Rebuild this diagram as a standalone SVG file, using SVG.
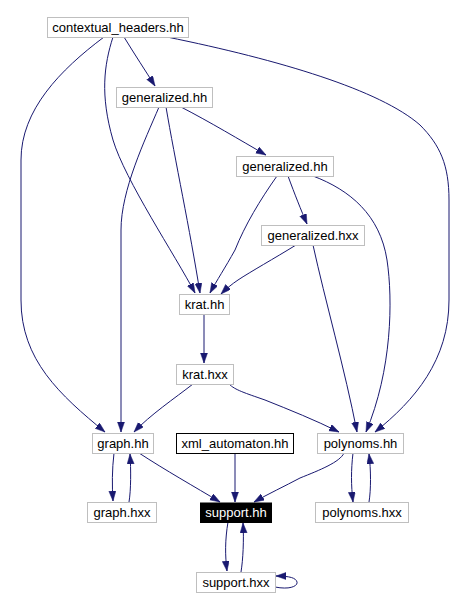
<svg xmlns="http://www.w3.org/2000/svg" width="468" height="609" viewBox="0 0 468 609">
<style>
.n rect{fill:#ffffff;stroke:#bfbfbf;stroke-width:1}
.n text{font-family:"Liberation Sans",Arial,sans-serif;font-size:13px;fill:#000000;text-anchor:middle}
.n.b rect{stroke:#000000}
.n.cur rect{fill:#000000;stroke:#000000}
.n.cur text{fill:#ffffff}
.e path{fill:none;stroke:#191970;stroke-width:1;marker-end:url(#ah)}
</style>
<defs>
<marker id="ah" markerUnits="userSpaceOnUse" markerWidth="11" markerHeight="8" refX="10" refY="3.5" orient="auto">
<path d="M0,0 L10,3.5 L0,7 z" fill="#191970" stroke="#191970" stroke-width="0.5"/>
</marker>
</defs>
<rect width="468" height="609" fill="#ffffff"/>
<g id="connectors" class="e">
<path d="M124,37 C135,55 145,70 155,86"/>
<path d="M113,37 C104,65 100,95 113,140 C125,180 175,255 195,293"/>
<path d="M104,37 C60,70 21,110 21,160 L21,300 C21,360 60,395 105,432"/>
<path d="M167,37 C280,60 380,90 420,125 C440,145 449,165 449,200 L449,300 C449,360 415,400 375,432"/>
<path d="M181,107 C210,122 240,140 266,155"/>
<path d="M166,107 C175,160 190,230 200,293"/>
<path d="M159,107 C145,140 121,190 121,230 L121,432"/>
<path d="M277,176 C260,200 245,225 235,250 C225,268 217,280 210,293"/>
<path d="M288,176 C295,195 301,210 307,224"/>
<path d="M313,176 C350,190 380,215 387,260 C393,300 392,370 366,432"/>
<path d="M296,245 C275,258 250,272 238,280 C232,284 226,289 221,294"/>
<path d="M313,245 C325,300 345,370 357,432"/>
<path d="M204,314 L204,363"/>
<path d="M193,384 C175,398 150,415 134,432"/>
<path d="M229,384 C235,390 245,393 265,400 C290,410 315,420 339,432"/>
<path d="M114,453 C112,470 112,485 113,501"/>
<path d="M129,502 C131,490 131,470 130,454"/>
<path d="M139,453 C165,470 195,487 220,502"/>
<path d="M235,453 L235,502"/>
<path d="M344,453 C340,462 320,470 300,478 C285,486 268,494 254,502"/>
<path d="M353,453 C351,470 351,485 353,502"/>
<path d="M369,502 C371,490 371,470 369,454"/>
<path d="M228,522 C225,540 225,555 227,571"/>
<path d="M241,572 C243,560 244,540 243,523"/>
<path d="M275,587 C290,590 298,586 297,582 C296,578 290,576 276,576"/>
</g>
<g id="contextual_headers_hh" class="n"><rect x="47.5" y="17.5" width="141" height="20"/><text x="118" y="32">contextual_headers.hh</text></g>
<g id="generalized_hh_1" class="n"><rect x="116.5" y="87.5" width="96" height="20"/><text x="164.5" y="102">generalized.hh</text></g>
<g id="generalized_hh_2" class="n"><rect x="236.5" y="156.5" width="97" height="20"/><text x="285" y="171">generalized.hh</text></g>
<g id="generalized_hxx" class="n"><rect x="261.5" y="225.5" width="103" height="20"/><text x="313" y="240">generalized.hxx</text></g>
<g id="krat_hh" class="n"><rect x="179.5" y="294.5" width="50" height="20"/><text x="204.5" y="309">krat.hh</text></g>
<g id="krat_hxx" class="n"><rect x="176.5" y="364.5" width="57" height="20"/><text x="205" y="379">krat.hxx</text></g>
<g id="graph_hh" class="n"><rect x="92.5" y="433.5" width="61" height="20"/><text x="123" y="448">graph.hh</text></g>
<g id="xml_automaton_hh" class="n b"><rect x="176.5" y="433.5" width="117" height="20"/><text x="235" y="448">xml_automaton.hh</text></g>
<g id="polynoms_hh" class="n"><rect x="317.5" y="433.5" width="86" height="20"/><text x="360.5" y="448">polynoms.hh</text></g>
<g id="graph_hxx" class="n"><rect x="87.5" y="502.5" width="69" height="20"/><text x="122" y="517">graph.hxx</text></g>
<g id="support_hh" class="n cur"><rect x="200.5" y="503" width="71" height="19.5"/><text x="236" y="517">support.hh</text></g>
<g id="polynoms_hxx" class="n"><rect x="315.5" y="502.5" width="93" height="20"/><text x="362" y="517">polynoms.hxx</text></g>
<g id="support_hxx" class="n"><rect x="196.5" y="572.5" width="79" height="20"/><text x="236" y="587">support.hxx</text></g>
</svg>
